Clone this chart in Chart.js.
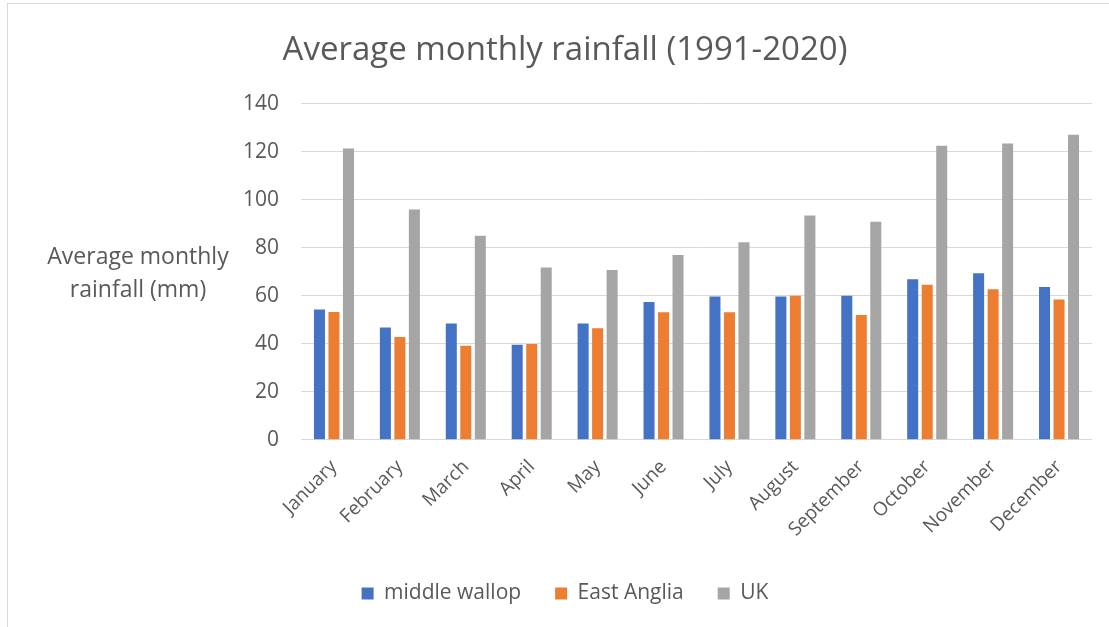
<!DOCTYPE html>
<html>
<head>
<meta charset="utf-8">
<script src="https://cdn.jsdelivr.net/npm/chart.js@4.4.0/dist/chart.umd.min.js"></script>
<style>
  html, body { margin: 0; padding: 0; background: #fff; }
  #wrap { position: relative; width: 1109px; height: 627px; }
  #frame { position: absolute; left: 7px; top: 3px; right: 0; bottom: 0;
           border-top: 1px solid #d9d9d9; border-left: 1px solid #d9d9d9; pointer-events: none; }
</style>
</head>
<body>
<div id="wrap">
  <canvas id="rainChart" width="1109" height="627"></canvas>
  <div id="frame"></div>
</div>
<script>
// data (mm)
const months = ['January', 'February', 'March', 'April', 'May', 'June',
                'July', 'August', 'September', 'October', 'November', 'December'];
const middleWallop = [54.2, 46.7, 48.4, 39.6, 48.4, 57.4, 59.7, 59.7, 60.0, 66.8, 69.3, 63.6];
const eastAnglia   = [53.2, 42.8, 39.1, 39.9, 46.4, 53.1, 53.1, 60.0, 52.0, 64.5, 62.7, 58.4];
const uk           = [121.3, 95.9, 85.0, 71.7, 70.7, 76.9, 82.3, 93.4, 90.8, 122.4, 123.4, 127.0];
const yTicks = [0, 20, 40, 60, 80, 100, 120, 140];

const textCol = '#595959';
const fontFam = "'Open Sans', 'Liberation Sans', sans-serif";

// y axis title is horizontal in the original, so draw it by hand
const yTitlePlugin = {
    id: 'yTitle',
    afterDraw(chart) {
        const c = chart.ctx;
        c.save();
        c.fillStyle = textCol;
        c.font = '23px ' + fontFam;
        c.textAlign = 'center';
        c.textBaseline = 'middle';
        c.fillText('Average monthly', 138, 257);
        c.fillText('rainfall (mm)', 138, 290);
        c.restore();
    }
};

const ctx = document.getElementById('rainChart').getContext('2d');
const rainChart = new Chart(ctx, {
    type: 'bar',
    data: {
        labels: months,
        datasets: [
            { label: 'middle wallop', data: middleWallop, backgroundColor: '#4472C4' },
            { label: 'East Anglia', data: eastAnglia, backgroundColor: '#ED7D31' },
            { label: 'UK', data: uk, backgroundColor: '#A5A5A5' }
        ]
    },
    options: {
        responsive: false,
        animation: false,
        maintainAspectRatio: false,
        layout: { padding: { left: 38, right: 17, top: 0, bottom: 13 } },
        datasets: {
            bar: { categoryPercentage: 0.66, barPercentage: 0.76 }
        },
        plugins: {
            title: {
                display: true,
                text: 'Average monthly rainfall (1991-2020)',
                color: textCol,
                font: { family: fontFam, size: 33, weight: 'normal' },
                padding: { top: 31, bottom: 33 }
            },
            legend: {
                position: 'bottom',
                labels: {
                    color: textCol,
                    font: { family: fontFam, size: 21 },
                    boxWidth: 12,
                    boxHeight: 12,
                    padding: 34
                }
            },
            tooltip: { enabled: false }
        },
        scales: {
            x: {
                grid: { display: false },
                border: { display: false },
                ticks: {
                    color: textCol,
                    font: { family: fontFam, size: 19 },
                    minRotation: 45,
                    maxRotation: 45,
                    padding: 8
                }
            },
            y: {
                min: 0,
                max: 140,
                afterFit(scale) { scale.width = 263; },
                afterBuildTicks(scale) { scale.ticks = yTicks.map(v => ({ value: v })); },
                grid: { color: '#d9d9d9', lineWidth: 1, drawTicks: false },
                border: { display: false },
                ticks: {
                    color: textCol,
                    font: { family: fontFam, size: 21 },
                    padding: 22
                }
            }
        }
    },
    plugins: [yTitlePlugin]
});
</script>
</body>
</html>
